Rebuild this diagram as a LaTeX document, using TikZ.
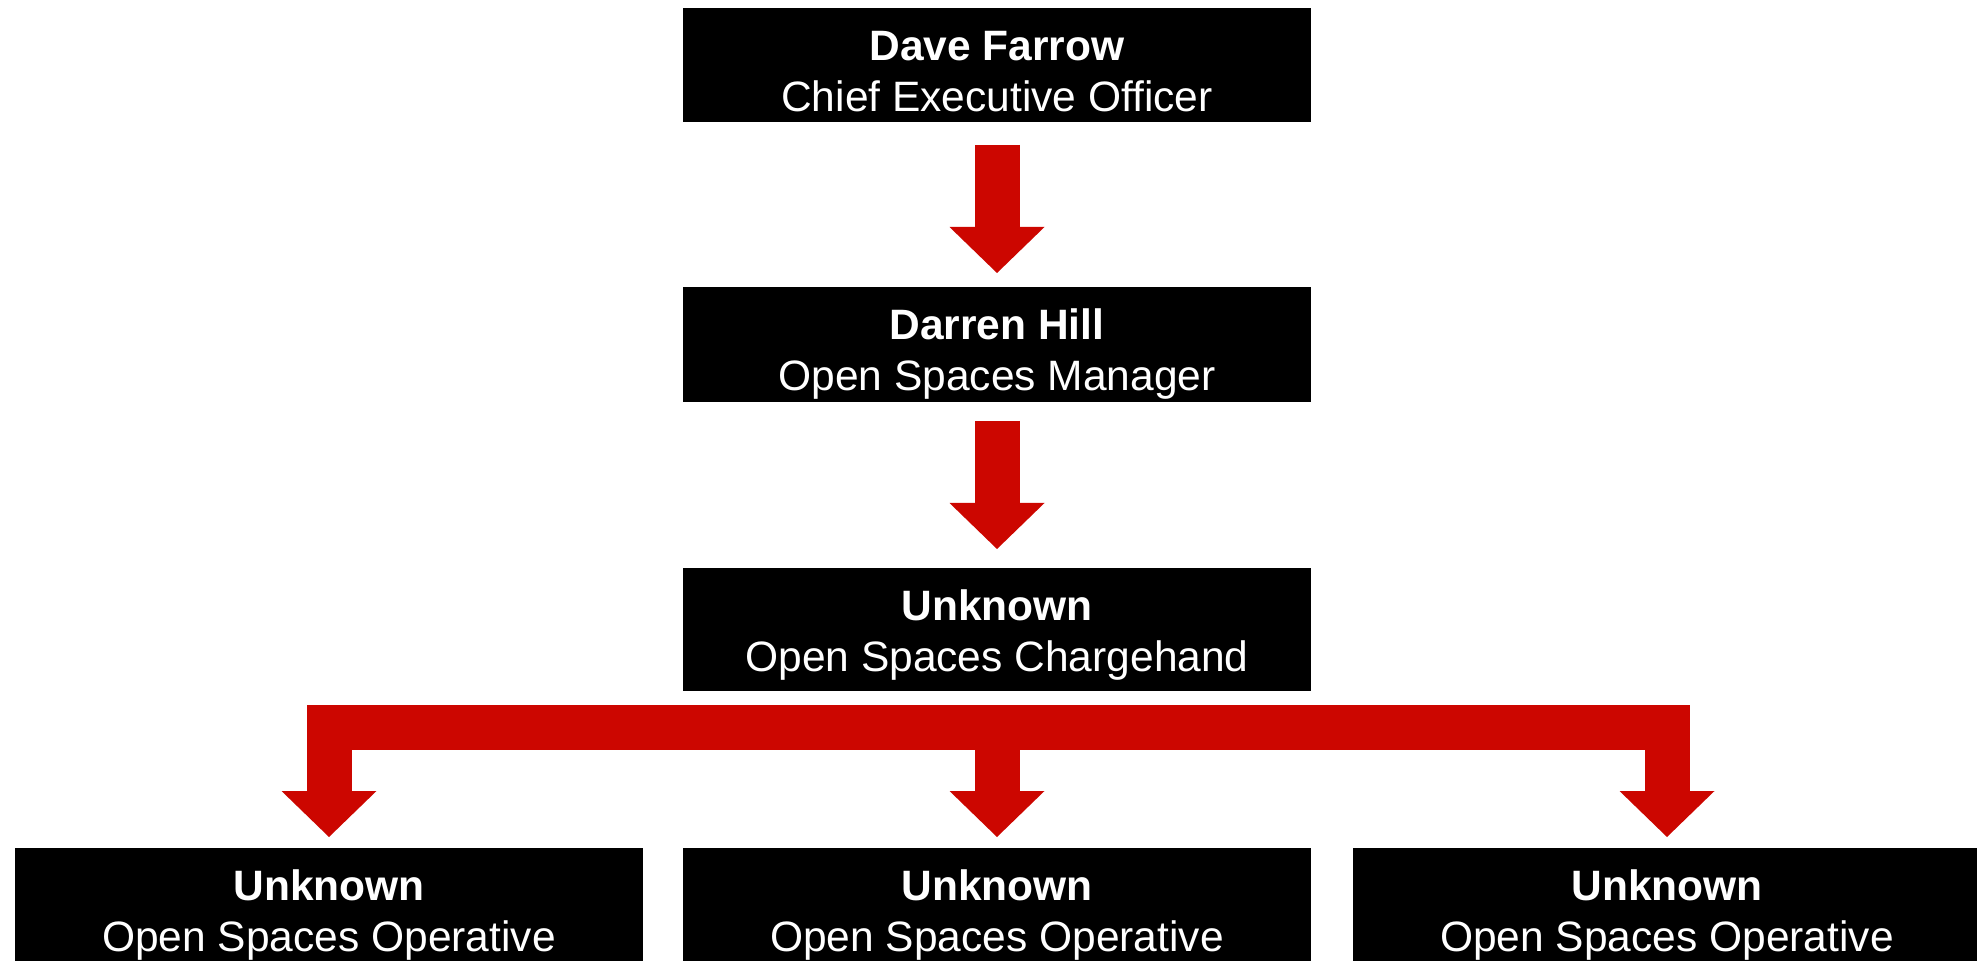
\documentclass[tikz,border=0pt]{standalone}
\usepackage{fontspec}
\setmainfont{Liberation Sans}
\usetikzlibrary{arrows.meta,calc}
\definecolor{chartred}{RGB}{204,6,0}
\tikzset{
  post/.style={fill=black,text=white,inner sep=0pt,minimum width=314pt,align=center,anchor=north,
    font=\fontsize{21.25pt}{25.5pt}\selectfont,text height=51.5pt,text depth=10pt},
  bighead/.tip={Triangle[length=23pt 0 0,width=47.5pt 0 0,line width=0pt 0 0]},
  flow/.style={draw=chartred,line width=22.5pt,line join=miter,-bighead}
}
\begin{document}
\begin{tikzpicture}[x=0.5pt,y=0.5pt]
\useasboundingbox (0,0) rectangle (1977,960);
\node[post,text depth=5.5pt] (ceo) at (997,952) {\textbf{Dave Farrow}\\Chief Executive Officer};
\node[post,text depth=6pt] (mgr) at (997,673) {\textbf{Darren Hill}\\Open Spaces Manager};
\node[post] (chg) at (997,392) {\textbf{Unknown}\\Open Spaces Chargehand};
\node[post] (opA) at (329,112) {\textbf{Unknown}\\Open Spaces Operative};
\node[post] (opB) at (997,112) {\textbf{Unknown}\\Open Spaces Operative};
\node[post] (opC) at (1667,112) {\textbf{Unknown}\\Open Spaces Operative};
\draw[flow] ($(ceo.south)+(0,-22)$) -- ($(mgr.north)+(0,14)$);
\draw[flow] ($(mgr.south)+(0,-18)$) -- ($(chg.north)+(0,19)$);
\coordinate (split) at ($(chg.south)+(0,-36)$);
\coordinate (tipA) at ($(opA.north)+(0,11)$);
\coordinate (tipB) at ($(opB.north)+(0,11)$);
\coordinate (tipC) at ($(opC.north)+(0,11)$);
\draw[flow,bighead-bighead] (tipA) |- (split) -| (tipC);
\draw[flow] (split) -- (tipB);
\end{tikzpicture}
\end{document}
